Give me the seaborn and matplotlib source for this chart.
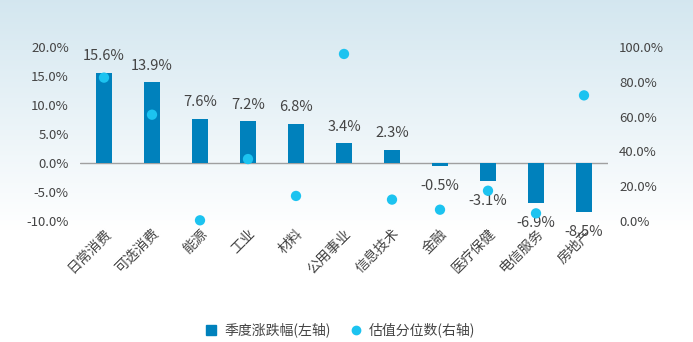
import numpy as np
import pandas as pd
import matplotlib
matplotlib.use("Agg")
import matplotlib.pyplot as plt
from matplotlib.lines import Line2D
from matplotlib.ticker import FuncFormatter
import seaborn as sns

# Sector data
sectors = ["日常消费", "可选消费", "能源", "工业", "材料", "公用事业",
           "信息技术", "金融", "医疗保健", "电信服务", "房地产"]
quarter_change = [15.6, 13.9, 7.6, 7.2, 6.8, 3.4, 2.3, -0.5, -3.1, -6.9, -8.5]
valuation_pct = [82.4, 61.1, 0.4, 35.6, 14.4, 96.0, 12.3, 6.5, 17.4, 4.4, 72.2]
legend_labels = ["季度涨跌幅(左轴)", "估值分位数(右轴)"]

BAR_COLOR = "#0081BC"
DOT_COLOR = "#1CC3F0"
TEXT_COLOR = "#444444"

sns.set_theme(style="white")
plt.rcParams["font.family"] = ["Noto Sans CJK SC", "DejaVu Sans"]
plt.rcParams["axes.unicode_minus"] = False

df = pd.DataFrame({"sector": sectors, "change": quarter_change, "pct": valuation_pct})

fig = plt.figure(figsize=(6.93, 3.42), dpi=100)

# light blue-to-white background wash
bg = fig.add_axes([0, 0, 1, 1], zorder=-10)
grad = np.ones((342, 1, 3))
top = np.array([0.83, 0.905, 0.94])
n = 230
for i in range(n):
    t = i / n
    grad[i, 0, :] = top * (1 - t) + np.array([1, 1, 1]) * t
bg.imshow(grad, aspect="auto", extent=[0, 1, 0, 1], origin="upper")
bg.set_xlim(0, 1)
bg.set_ylim(0, 1)
bg.axis("off")

ax = fig.add_axes([80 / 693, 121 / 342, 528 / 693, 174 / 342])
ax.patch.set_alpha(0)

sns.barplot(data=df, x="sector", y="change", color=BAR_COLOR, width=0.33,
            saturation=1, linewidth=0, edgecolor="none", ax=ax, zorder=2)
ax.set_xlim(-0.5, len(sectors) - 0.5)
ax.set_ylim(-10, 20)
ax.axhline(0, color="#a0a0a0", lw=1.0, zorder=1)

for i, v in enumerate(quarter_change):
    if v >= 0:
        ax.annotate(f"{v:.1f}%", (i, v), xytext=(0, 7), textcoords="offset points",
                    ha="center", va="bottom", fontsize=10.5, color=TEXT_COLOR)
    else:
        ax.annotate(f"{v:.1f}%", (i, v), xytext=(0, -9.5), textcoords="offset points",
                    ha="center", va="top", fontsize=10.5, color=TEXT_COLOR)

ax.set_yticks([-10, -5, 0, 5, 10, 15, 20])
ax.yaxis.set_major_formatter(FuncFormatter(lambda v, p: f"{v:.1f}%"))
ax.tick_params(axis="y", length=0, pad=8, labelsize=9.5, labelcolor=TEXT_COLOR)
ax.tick_params(axis="x", length=0, pad=4, labelsize=10, labelcolor=TEXT_COLOR)
for lab in ax.get_xticklabels():
    lab.set_rotation(45)
    lab.set_ha("right")
    lab.set_rotation_mode("anchor")
ax.set_xlabel("")
ax.set_ylabel("")
for s in ax.spines.values():
    s.set_visible(False)

ax2 = ax.twinx()
sns.scatterplot(data=df, x="sector", y="pct", color=DOT_COLOR, s=55,
                edgecolor="none", ax=ax2, zorder=3, clip_on=False)
ax2.set_ylim(0, 100)
ax2.set_yticks([0, 20, 40, 60, 80, 100])
ax2.yaxis.set_major_formatter(FuncFormatter(lambda v, p: f"{v:.1f}%"))
ax2.tick_params(axis="y", length=0, pad=8, labelsize=9.5, labelcolor=TEXT_COLOR)
ax2.set_ylabel("")
for s in ax2.spines.values():
    s.set_visible(False)

handles = [
    Line2D([], [], marker="s", linestyle="none", color=BAR_COLOR, markersize=7),
    Line2D([], [], marker="o", linestyle="none", color=DOT_COLOR, markersize=6),
]
fig.legend(handles, legend_labels, loc="center", bbox_to_anchor=(0.49, 0.035),
           ncol=2, frameon=False, fontsize=10, handlelength=1.0,
           handletextpad=0.45, columnspacing=1.3, labelcolor=TEXT_COLOR)

fig.savefig("out.png", dpi=100)
